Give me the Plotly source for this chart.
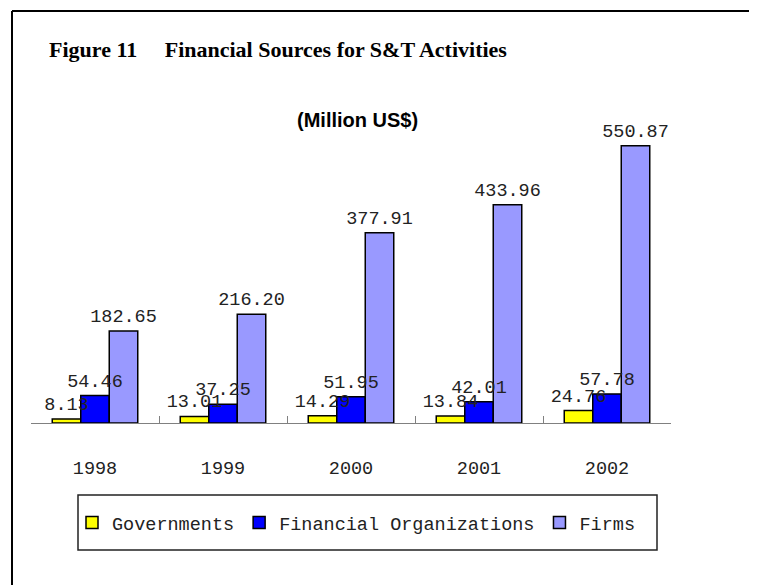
import plotly.graph_objects as go

# Dados (milhões de US$)
anos = ["1998", "1999", "2000", "2001", "2002"]
governos = [8.13, 13.01, 14.29, 13.84, 24.76]
org_financeiras = [54.46, 37.25, 51.95, 42.01, 57.78]
empresas = [182.65, 216.20, 377.91, 433.96, 550.87]

nomes = ["Governments", "Financial Organizations", "Firms"]
cores = ["#FFFF00", "#0000FF", "#9999FF"]
series = [governos, org_financeiras, empresas]

fonte_mono = "Liberation Mono, DejaVu Sans Mono, monospace"
text_color = "#222222"

# A página tem margem de 8px, então a figura é 8px menor
W, H = 749, 577
# Área do gráfico (em pixels da figura)
L, B = 23, 415          # borda esquerda e linha de base
PW, PH = 640, 323       # largura e altura

px_x = lambda p: (p - L) / PW
px_y = lambda p: (B - p) / PH

fig = go.Figure()

# Barras
for nome, valores, cor in zip(nomes, series, cores):
    fig.add_trace(go.Bar(
        x=anos, y=valores, name=nome,
        marker=dict(color=cor, line=dict(color="#000000", width=1.5)),
    ))

# Rótulos em um eixo sobreposto (para ficarem por cima de todas as barras)
for nome, valores in zip(nomes, series):
    fig.add_trace(go.Bar(
        x=anos, y=valores, name=nome, showlegend=False,
        xaxis="x2", yaxis="y2",
        marker=dict(color="rgba(0,0,0,0)", line=dict(width=0)),
        text=[f"{v:.2f}" for v in valores],
        textposition="outside",
        constraintext="none",
        cliponaxis=False,
        hoverinfo="skip",
        textfont=dict(family=fonte_mono, size=18.5, color=text_color),
    ))

fig.update_layout(
    width=W, height=H,
    margin=dict(l=L, r=W - L - PW, t=B - PH, b=H - B),
    plot_bgcolor="#FFFFFF", paper_bgcolor="#FFFFFF",
    barmode="group", bargap=0.332, bargroupgap=0,
    title=dict(
        text="<b>Figure 11" + "\u00a0" * 5 + "Financial Sources for S&T Activities</b>",
        x=41 / W, xanchor="left", xref="container",
        y=1 - 41 / H, yanchor="middle", yref="container",
        font=dict(family="Liberation Serif, Times New Roman, serif", size=22, color="#000000"),
    ),
    legend=dict(
        orientation="h",
        x=px_x(64), xanchor="left",
        y=px_y(496), yanchor="top",
        font=dict(family=fonte_mono, size=18.5, color=text_color),
        borderwidth=0,
        bgcolor="rgba(0,0,0,0)",
    ),
    xaxis=dict(
        type="category",
        showline=True, linecolor="#808080", linewidth=1,
        ticks="inside", tickson="boundaries", ticklen=7, tickcolor="#808080",
        ticklabelstandoff=28,
        tickfont=dict(family=fonte_mono, size=18.5, color=text_color),
        showgrid=False, zeroline=False,
    ),
    yaxis=dict(range=[0, 642], visible=False, showgrid=False, zeroline=False),
    xaxis2=dict(type="category", overlaying="x", matches="x", visible=False),
    yaxis2=dict(overlaying="y", matches="y", visible=False),
)

# Subtítulo com a unidade
fig.add_annotation(
    text="<b>(Million US$)</b>",
    xref="paper", yref="paper",
    x=px_x(349), y=px_y(112),
    xanchor="center", yanchor="middle",
    showarrow=False,
    font=dict(family="Liberation Sans, Arial, sans-serif", size=20, color="#000000"),
)

# Caixa da legenda
fig.add_shape(type="rect", xref="paper", yref="paper",
              x0=px_x(70), y0=px_y(487), x1=px_x(649), y1=px_y(542),
              line=dict(color="#222222", width=1.5))

# Moldura externa (só topo e lado esquerdo aparecem)
fig.add_shape(type="line", xref="paper", yref="paper",
              x0=px_x(4), y0=px_y(3), x1=px_x(W + 10), y1=px_y(3),
              line=dict(color="#000000", width=2))
fig.add_shape(type="line", xref="paper", yref="paper",
              x0=px_x(4), y0=px_y(3), x1=px_x(4), y1=px_y(H + 10),
              line=dict(color="#000000", width=2))

fig.write_html("out.html")
